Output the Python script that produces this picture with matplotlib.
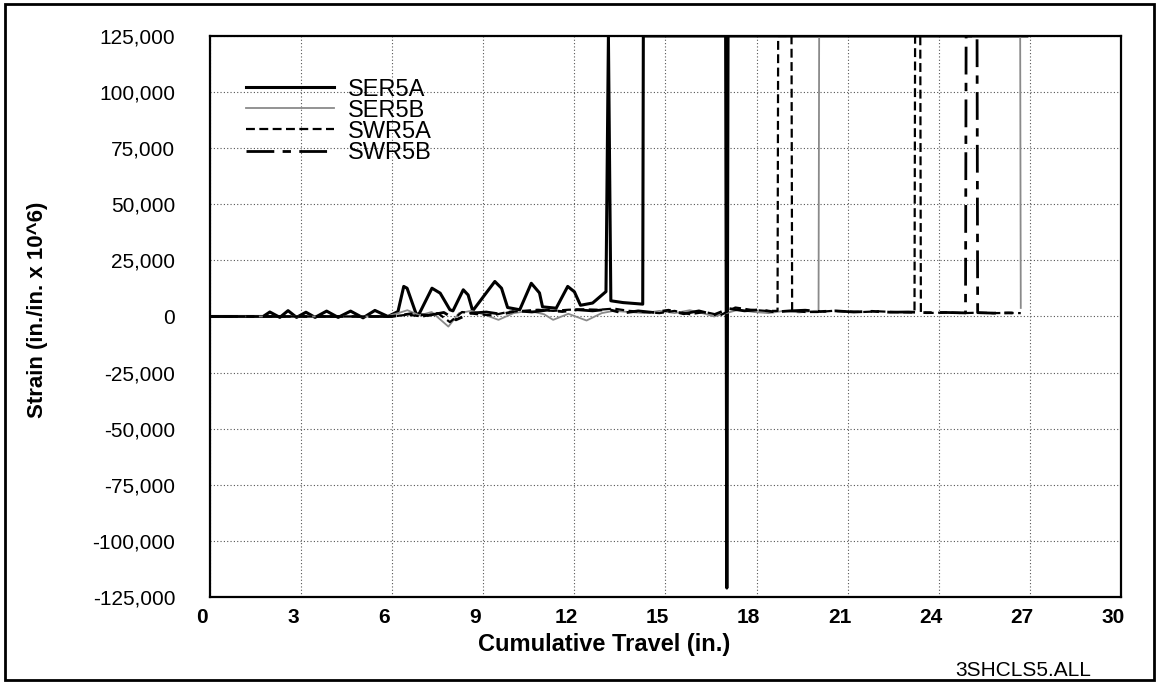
import matplotlib
matplotlib.use("Agg")
import matplotlib.pyplot as plt
import matplotlib.transforms as mtransforms
from matplotlib.patches import Rectangle

# strain gauge traces (x in inches, strain in in./in. x 10^6)
ser5a_x = [0, 0.5, 1.0, 1.5, 1.75, 1.97, 2.3, 2.57, 2.85, 3.16, 3.46, 3.84, 4.22, 4.63,
           5.04, 5.43, 5.86, 6.19, 6.38, 6.49, 6.8, 6.9, 7.31, 7.58, 7.9, 8.0, 8.34, 8.5,
           8.65, 9.38, 9.6, 9.8, 10.2, 10.58, 10.85, 10.95, 11.4, 11.78, 12.0, 12.2, 12.6,
           13.04, 13.12, 13.2, 13.6, 14.25, 14.27, 16.98, 17.02, 17.06, 26.9]
ser5a_y = [0, 0, 0, 0, 0, 2000, -400, 2600, -400, 1900, -400, 2400, -400, 2400,
           -600, 2700, 0, 2200, 13400, 12600, 700, 1500, 12600, 10400, 3000, 2500, 11900, 9600,
           2500, 15600, 12600, 4000, 3000, 14800, 10500, 4300, 3700, 13400, 11000, 5000, 6000,
           11100, 125000, 7000, 6200, 5500, 125000, 125000, -121000, 125000, 125000]

ser5b_x = [0, 5.8, 6.2, 6.5, 6.9, 7.3, 7.85, 8.2, 8.6, 9.0, 9.5, 10.0, 10.5, 11.0, 11.3,
           11.8, 12.4, 12.9, 13.3, 13.8, 14.3, 14.8, 15.3, 15.8, 16.3, 16.6, 17.0, 17.4,
           17.9, 18.4, 18.9, 19.4, 19.9, 20.04, 20.06, 26.68, 26.7]
ser5b_y = [0, 0, 1500, 2800, 500, 2000, -4500, 1500, 2500, 1000, -1500, 1500, 2500, 1000, -1500,
           1200, -1800, 1500, 2500, 2000, 1500, 2500, 1500, 2800, 1200, 0, 1500, 3000,
           2000, 1500, 2500, 1800, 2500, 2500, 125000, 125000, 3800]

swr5a_x = [0, 6.0, 6.5, 7.0, 7.5, 7.9, 8.3, 8.8, 9.3, 9.8, 10.3, 10.8, 11.3, 11.8, 12.3,
           12.8, 13.3, 13.8, 14.3, 14.8, 15.3, 15.8, 16.3, 16.8, 17.3, 17.8, 18.3, 18.69,
           18.71, 19.15, 19.17, 19.6, 20.0, 20.5, 21.0, 21.5, 22.0, 22.5, 23.0, 23.2, 23.22,
           23.39, 23.41, 23.8, 24.3, 24.8, 25.3, 25.8, 26.3, 26.7]
swr5a_y = [0, 0, 800, 0, 1500, -2500, 2000, 1000, 500, 2000, 2500, 3000, 2500, 3000, 3200,
           3000, 3500, 2500, 2000, 1500, 2500, 1000, 2000, 500, 4000, 3000, 2500, 2500,
           125000, 125000, 2500, 2000, 2000, 2500, 2200, 2000, 2300, 2000, 1800, 1800, 125000,
           125000, 1800, 1600, 1800, 1500, 1700, 1500, 1600, 1500]

swr5b_x = [0, 6.0, 6.6, 7.2, 7.7, 8.1, 8.6, 9.1, 9.6, 10.1, 10.6, 11.1, 11.6, 12.1, 12.6,
           13.1, 13.6, 14.1, 14.6, 15.1, 15.6, 16.1, 16.6, 17.1, 17.6, 18.1, 18.6, 19.1,
           19.6, 20.1, 20.6, 21.2, 21.8, 22.4, 23.0, 23.6, 24.2, 24.88, 24.9, 25.26, 25.28,
           25.8, 26.3, 26.7]
swr5b_y = [0, 0, 1200, 500, 1800, -1500, 1500, 2000, 1000, 2500, 2000, 2800, 2200, 3000, 2500,
           3200, 1500, 2500, 1800, 2800, 1200, 2500, 800, 3500, 2500, 3000, 2000, 2500,
           2800, 2200, 2500, 2000, 2300, 1900, 2000, 1700, 1800, 1600, 125000, 125000, 1700,
           1500, 1600, 1500]

x_ticks = list(range(0, 31, 3))
y_ticks = list(range(-125000, 125001, 25000))

fig = plt.figure(figsize=(11.59, 6.84), dpi=100)
ax = fig.add_axes([0.1812, 0.1272, 0.786, 0.8202])

ax.plot(ser5a_x, ser5a_y, color="black", lw=2.2, label="SER5A")
ax.plot(ser5b_x, ser5b_y, color="#8a8a8a", lw=1.3, label="SER5B")
ax.plot(swr5a_x, swr5a_y, color="black", lw=1.6, ls=(0, (4, 2)), label="SWR5A")
ax.plot(swr5b_x, swr5b_y, color="black", lw=2.0, ls=(0, (10, 3, 3, 3)), label="SWR5B")

ax.set_xlim(0, 30)
ax.set_ylim(-125000, 125000)
ax.set_xticks(x_ticks)
ax.set_yticks(y_ticks)
ax.set_yticklabels([f"{v:,}" for v in y_ticks], fontsize=15, family="Liberation Sans")
ax.set_xticklabels([str(v) for v in x_ticks], fontsize=15,
                   family=["Liberation Sans Narrow", "Liberation Sans"], fontweight="bold")
ax.tick_params(axis="y", length=0, pad=25)
ax.tick_params(axis="x", length=0, pad=8)
shift = mtransforms.ScaledTranslation(-8 / 100, 0, fig.dpi_scale_trans)
for lab in ax.get_xticklabels():
    lab.set_transform(lab.get_transform() + shift)

ax.grid(True, color="#555555", lw=0.8, ls=(0, (1, 2)))
for sp in ax.spines.values():
    sp.set_linewidth(1.6)
    sp.set_color("black")

fig.text(604 / 1159, 1 - 644 / 684, "Cumulative Travel (in.)", ha="center", va="center",
         fontsize=17, fontweight="bold", family="Liberation Sans")
fig.text(38 / 1159, 1 - 310 / 684, "Strain (in./in. x 10^6)", ha="center", va="center",
         rotation=90, fontsize=16, fontweight="bold", family="Liberation Sans")
fig.text(1023 / 1159, 1 - 670 / 684, "3SHCLS5.ALL", ha="center", va="center",
         fontsize=15, family="Liberation Sans")

leg = ax.legend(loc="upper left", bbox_to_anchor=(0.027, 0.945), frameon=False,
                prop={"family": "Liberation Sans", "size": 17}, handlelength=3.7,
                handletextpad=0.6, labelspacing=-0.04, borderpad=0)

fig.patches.append(Rectangle((0.004, 0.006), 0.992, 0.988, transform=fig.transFigure,
                             fill=False, lw=2, edgecolor="black"))

fig.savefig("out.png", dpi=100)
